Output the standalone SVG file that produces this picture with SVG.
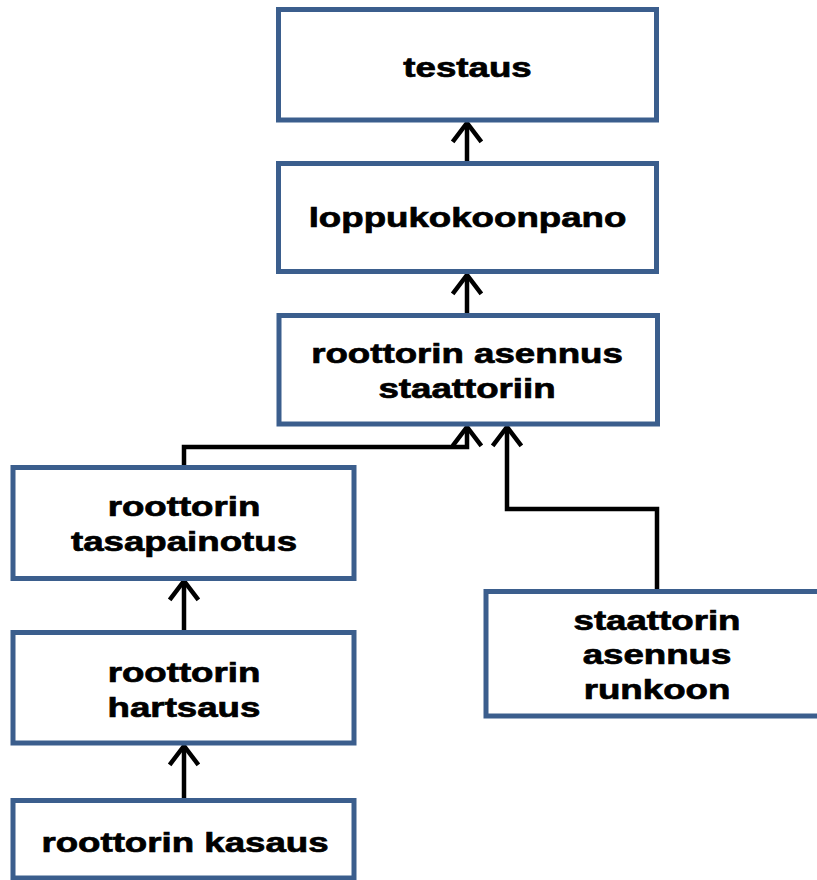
<svg xmlns="http://www.w3.org/2000/svg" width="817" height="880" viewBox="0 0 817 880">
<style>
.box{fill:#ffffff;stroke:#3B5E8D;stroke-width:5}
.lbl{font-family:"Liberation Sans",Arial,sans-serif;font-weight:bold;font-size:28px;fill:#000;stroke:#000;stroke-width:0.7;text-anchor:middle}
.con{fill:none;stroke:#000;stroke-width:4.5;marker-end:url(#arr)}
</style>
<defs>
<marker id="arr" markerUnits="userSpaceOnUse" markerWidth="40" markerHeight="40" viewBox="-20 -20 40 40" refX="0" refY="0" orient="auto" overflow="visible">
<path d="M-17,-13 L0,0 L-17,13" fill="none" stroke="#000" stroke-width="4.5" stroke-linecap="square"/>
</marker>
</defs>
<rect width="817" height="880" fill="#ffffff"/>
<g id="connectors">
<path class="con" d="M467,163 V123"/>
<path class="con" d="M467,315 V275"/>
<path class="con" d="M184,467 V447 H467 V427"/>
<path class="con" d="M657,591 V509 H507 V427"/>
<path class="con" d="M184,632 V581"/>
<path class="con" d="M184,800 V746"/>
</g>
<g id="testaus">
<rect class="box" x="278.5" y="9.5" width="378" height="110.5"/>
<text class="lbl" transform="translate(467.5,77) scale(1.31,1)">testaus</text>
</g>
<g id="loppukokoonpano">
<rect class="box" x="278.5" y="163.5" width="378" height="108"/>
<text class="lbl" transform="translate(467.5,227) scale(1.31,1)">loppukokoonpano</text>
</g>
<g id="roottorin-asennus">
<rect class="box" x="279" y="315.5" width="378.5" height="108.5"/>
<text class="lbl" transform="translate(467,363) scale(1.31,1)">roottorin asennus</text>
<text class="lbl" transform="translate(467,398) scale(1.31,1)">staattoriin</text>
</g>
<g id="roottorin-tasapainotus">
<rect class="box" x="13" y="467.5" width="341" height="111"/>
<text class="lbl" transform="translate(184,516) scale(1.31,1)">roottorin</text>
<text class="lbl" transform="translate(184,551) scale(1.31,1)">tasapainotus</text>
</g>
<g id="roottorin-hartsaus">
<rect class="box" x="13" y="632.5" width="341" height="110.5"/>
<text class="lbl" transform="translate(184,682) scale(1.31,1)">roottorin</text>
<text class="lbl" transform="translate(184,717) scale(1.31,1)">hartsaus</text>
</g>
<g id="roottorin-kasaus">
<rect class="box" x="13" y="800.5" width="341" height="77.5"/>
<text class="lbl" transform="translate(185,852) scale(1.31,1)">roottorin kasaus</text>
</g>
<g id="staattorin-asennus">
<rect class="box" x="486" y="591.5" width="343" height="124.5"/>
<text class="lbl" transform="translate(657,630) scale(1.31,1)">staattorin</text>
<text class="lbl" transform="translate(657,664) scale(1.31,1)">asennus</text>
<text class="lbl" transform="translate(657,699) scale(1.31,1)">runkoon</text>
</g>
</svg>
